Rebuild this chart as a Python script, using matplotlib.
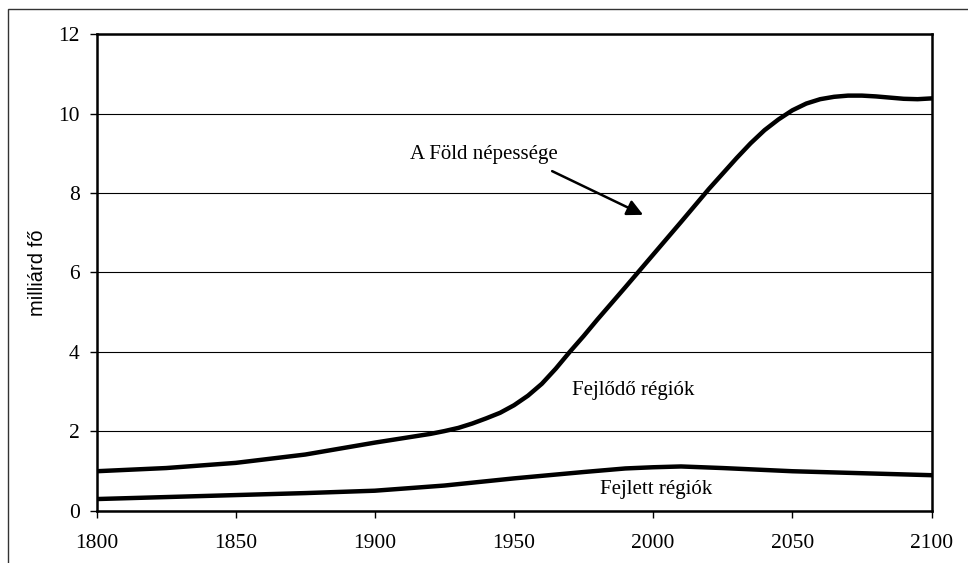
import matplotlib
matplotlib.use("Agg")
import matplotlib.pyplot as plt
from matplotlib.patches import Rectangle

# adatok (leolvasva az ábráról, milliárd fő)
years_world = [1800, 1825, 1850, 1875, 1890, 1900, 1910, 1920, 1925, 1930,
               1935, 1940, 1945, 1950, 1955, 1960, 1965, 1970, 1975, 1980,
               1990, 2000, 2010, 2020, 2030, 2035, 2040, 2045, 2050, 2055,
               2060, 2065, 2070, 2075, 2080, 2085, 2090, 2095, 2100]
world = [1.0, 1.08, 1.21, 1.42, 1.6, 1.72, 1.83, 1.94, 2.01, 2.09,
         2.2, 2.33, 2.47, 2.66, 2.9, 3.2, 3.58, 4.0, 4.4, 4.82,
         5.63, 6.45, 7.27, 8.1, 8.88, 9.25, 9.58, 9.85, 10.08, 10.25,
         10.36, 10.42, 10.45, 10.45, 10.43, 10.4, 10.37, 10.36, 10.38]
years_dev = [1800, 1825, 1850, 1875, 1900, 1925, 1950, 1975, 1990, 2000,
             2010, 2025, 2050, 2075, 2100]
developed = [0.3, 0.35, 0.4, 0.45, 0.51, 0.64, 0.82, 0.98, 1.07, 1.1,
             1.12, 1.08, 1.0, 0.95, 0.9]
xticks = [1800, 1850, 1900, 1950, 2000, 2050, 2100]
yticks = [0, 2, 4, 6, 8, 10, 12]

SERIF = "Liberation Serif"
SANS = "Liberation Sans"

fig = plt.figure(figsize=(9.68, 5.63), dpi=100)
# külső keret (jobbra/lent levágva, mint az eredetin)
fig.patches.append(Rectangle((8 / 968, -0.1), 1.2, 1.1 - 9 / 563,
                             transform=fig.transFigure, fill=False,
                             lw=1.0, ec="#333333"))
ax = fig.add_axes([0.0997, 0.0924, 0.8626, 0.8472])

ax.plot(years_world, world, c="black", lw=3.2, solid_joinstyle="round")
ax.plot(years_dev, developed, c="black", lw=3.2, solid_joinstyle="round")

ax.set_xlim(1800, 2100)
ax.set_ylim(0, 12)
ax.set_xticks(xticks)
ax.set_yticks(yticks)
ax.yaxis.grid(True, color="black", lw=0.8)
ax.set_axisbelow(True)
for s in ax.spines.values():
    s.set_linewidth(1.8)
ax.tick_params(direction="out", length=5, width=1, labelsize=15.5)
ax.tick_params(axis="x", pad=11.5)
ax.tick_params(axis="y", pad=7)
for lab in ax.get_xticklabels() + ax.get_yticklabels():
    lab.set_fontfamily(SERIF)

ax.set_ylabel("milliárd fő", fontfamily=SANS, fontsize=14.5, labelpad=8)

ax.annotate("", xy=(1996.4, 7.45), xytext=(1963.7, 8.55),
            arrowprops=dict(arrowstyle="-|>", color="black", lw=1.8,
                            mutation_scale=24, shrinkA=0, shrinkB=0))
ax.text(1939.2, 8.96, "A Föld népessége", ha="center", va="center",
        fontsize=15, fontfamily=SERIF)
ax.text(1992.8, 3.02, "Fejlődő régiók", ha="center", va="center",
        fontsize=15, fontfamily=SERIF)
ax.text(2001.1, 0.55, "Fejlett régiók", ha="center", va="center",
        fontsize=15, fontfamily=SERIF)

fig.savefig("out.png", dpi=100)
